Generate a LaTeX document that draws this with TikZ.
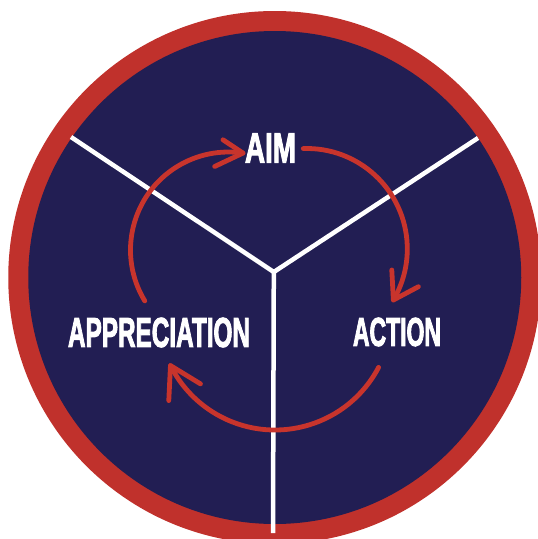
\documentclass[tikz,border=0pt]{standalone}
\usepackage{fontspec}
\setmainfont{Liberation Sans}
\newfontfamily\capfont{Liberation Sans Bold}[FakeBold=3]
\usepackage{graphicx}
\usetikzlibrary{calc}

\definecolor{ringred}{RGB}{192,49,44}
\definecolor{discnavy}{RGB}{34,30,83}
\definecolor{arrowred}{RGB}{200,52,44}

% heavy caption squeezed to a given width and cap height (pt)
\newcommand{\cyclabel}[3]{\resizebox{#1pt}{#2pt}{\capfont #3}}

\tikzset{
  divider/.style={draw=white, line width=4.5pt, line cap=butt, line join=miter},
  cycarrow/.style={draw=arrowred, line width=4.8pt, line cap=round, line join=round},
  stagelabel/.style={text=white, inner sep=0pt, anchor=center},
}

\begin{document}
\begin{tikzpicture}[x=1pt, y=-1pt]
\useasboundingbox (0,0) rectangle (538,539);
\begin{scope}
\clip (0,0) rectangle (538,539);

% disc with red rim
\coordinate (c) at (274.75,277.5);
\fill[ringred] (c) circle[radius=266.5pt];
\fill[discnavy] (c) circle[radius=246.5pt];

% three dividing spokes
\coordinate (hub)  at (273.8,272);
\coordinate (endL) at (71,137);
\coordinate (endR) at (478,138);
\coordinate (endB) at (273,533);
\draw[divider] (endL) -- (hub) -- (endR);
\draw[divider] (hub) -- (endB);

% stage captions
\node[stagelabel] (aim) at (270.5,148) {\cyclabel{51}{29}{AIM}};
\node[stagelabel] (appr) at (159,332.5) {\cyclabel{182}{29}{APPRECIATION}};
\node[stagelabel] (act) at (397,332) {\cyclabel{88}{28}{ACTION}};

% appreciation -> aim
\coordinate (o1) at (228.5,250);
\coordinate (a1s) at ($(o1)+(148.7:98)$);
\coordinate (a1t) at ($(o1)+(278.5:98)$);
\draw[cycarrow] (a1s) arc[start angle=148.7, end angle=278.5, radius=98];
\draw[cycarrow] ($(a1t)+(-20,-13.3)$) -- (a1t) -- ($(a1t)+(-28.3,13.4)$);

% aim -> action
\coordinate (o2) at (306.8,249);
\coordinate (a2s) at ($(o2)+(-92:100.5)$);
\coordinate (a2t) at ($(o2)+(30.5:100.5)$);
\draw[cycarrow] (a2s) arc[start angle=-92, end angle=30.5, radius=100.5];
\draw[cycarrow] ($(a2t)+(-1.6,-30)$) -- (a2t) -- ($(a2t)+(25,-13.3)$);

% action -> appreciation
\coordinate (o3) at (275,313);
\coordinate (a3s) at ($(o3)+(27.7:117)$);
\coordinate (a3t) at ($(o3)+(153.3:117)$);
\draw[cycarrow] (a3s) arc[start angle=27.7, end angle=153.3, radius=117];
\draw[cycarrow] ($(a3t)+(-1.7,35)$) -- (a3t) -- ($(a3t)+(30,18.3)$);
\end{scope}
\end{tikzpicture}
\end{document}
